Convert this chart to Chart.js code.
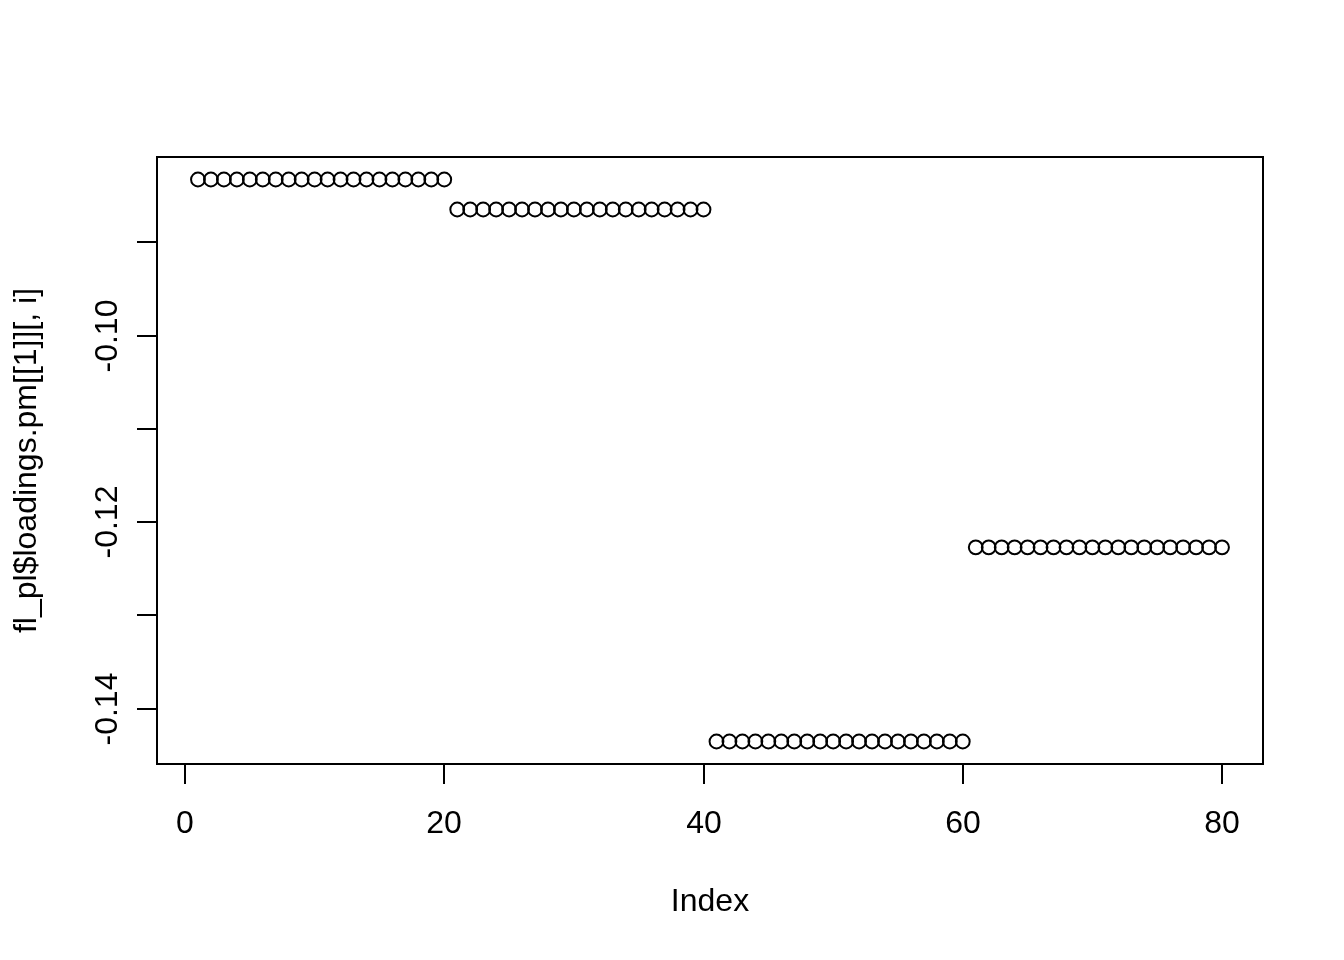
<!DOCTYPE html>
<html>
<head>
<meta charset="utf-8">
<script src="https://cdn.jsdelivr.net/npm/chart.js@4"></script>
<style>
  html, body { margin: 0; padding: 0; background: #fff; }
  canvas { display: block; }
</style>
</head>
<body>
<canvas id="chart" width="1344" height="960"></canvas>
<script>
// loadings, one per index 1..80
const loadings = [
  -0.08326, -0.08326, -0.08326, -0.08326, -0.08326, -0.08326, -0.08326, -0.08326, -0.08326, -0.08326,
  -0.08326, -0.08326, -0.08326, -0.08326, -0.08326, -0.08326, -0.08326, -0.08326, -0.08326, -0.08326,
  -0.08648, -0.08648, -0.08648, -0.08648, -0.08648, -0.08648, -0.08648, -0.08648, -0.08648, -0.08648,
  -0.08648, -0.08648, -0.08648, -0.08648, -0.08648, -0.08648, -0.08648, -0.08648, -0.08648, -0.08648,
  -0.14351, -0.14351, -0.14351, -0.14351, -0.14351, -0.14351, -0.14351, -0.14351, -0.14351, -0.14351,
  -0.14351, -0.14351, -0.14351, -0.14351, -0.14351, -0.14351, -0.14351, -0.14351, -0.14351, -0.14351,
  -0.12269, -0.12269, -0.12269, -0.12269, -0.12269, -0.12269, -0.12269, -0.12269, -0.12269, -0.12269,
  -0.12269, -0.12269, -0.12269, -0.12269, -0.12269, -0.12269, -0.12269, -0.12269, -0.12269, -0.12269
];
const xTicks = [0, 20, 40, 60, 80];
const yTicks = [-0.14, -0.13, -0.12, -0.11, -0.10, -0.09];
const yTickLabels = ["-0.14", "", "-0.12", "", "-0.10", ""];
const xTitle = "Index";
const yTitle = "fl_pl$loadings.pm[[1]][, i]";

const FONT = '32px "Liberation Sans", Arial, Helvetica, sans-serif';

// R-style box + axes, positioned with the chart's scales
const rAxes = {
  id: "rAxes",
  afterDraw(chart) {
    const { ctx, chartArea: a, scales } = chart;
    const xs = scales.x, ys = scales.y;
    ctx.save();
    ctx.strokeStyle = "#000";
    ctx.fillStyle = "#000";
    ctx.lineWidth = 2;
    ctx.strokeRect(a.left, a.top, a.right - a.left, a.bottom - a.top);

    ctx.font = FONT;
    // x axis
    ctx.textAlign = "center";
    ctx.textBaseline = "alphabetic";
    xTicks.forEach(t => {
      const px = Math.round(xs.getPixelForValue(t));
      ctx.beginPath();
      ctx.moveTo(px, a.bottom);
      ctx.lineTo(px, a.bottom + 20);
      ctx.stroke();
      ctx.fillText(String(t), px, a.bottom + 69);
    });
    ctx.fillText(xTitle, (a.left + a.right) / 2, a.bottom + 147);

    // y axis
    yTicks.forEach((t, i) => {
      const py = Math.round(ys.getPixelForValue(t));
      ctx.beginPath();
      ctx.moveTo(a.left, py);
      ctx.lineTo(a.left - 20, py);
      ctx.stroke();
      if (yTickLabels[i]) {
        ctx.save();
        ctx.translate(a.left - 40, py);
        ctx.rotate(-Math.PI / 2);
        ctx.fillText(yTickLabels[i], 0, 0);
        ctx.restore();
      }
    });
    ctx.save();
    ctx.translate(36, (a.top + a.bottom) / 2);
    ctx.rotate(-Math.PI / 2);
    ctx.fillText(yTitle, 0, 0);
    ctx.restore();
    ctx.restore();
  }
};

new Chart(document.getElementById("chart"), {
  type: "scatter",
  data: {
    datasets: [{
      data: loadings.map((v, i) => ({ x: i + 1, y: v })),
      pointStyle: "circle",
      pointRadius: 6.9,
      pointBorderWidth: 2,
      pointBorderColor: "#000",
      pointBackgroundColor: "rgba(0,0,0,0)"
    }]
  },
  options: {
    responsive: false,
    animation: false,
    layout: { padding: { left: 157, right: 81, top: 157, bottom: 196 } },
    plugins: { legend: { display: false }, tooltip: { enabled: false } },
    scales: {
      x: { type: "linear", min: -2.16, max: 83.16, display: false },
      y: { type: "linear", min: -0.14592, max: -0.08085, display: false }
    }
  },
  plugins: [rAxes]
});
</script>
</body>
</html>
